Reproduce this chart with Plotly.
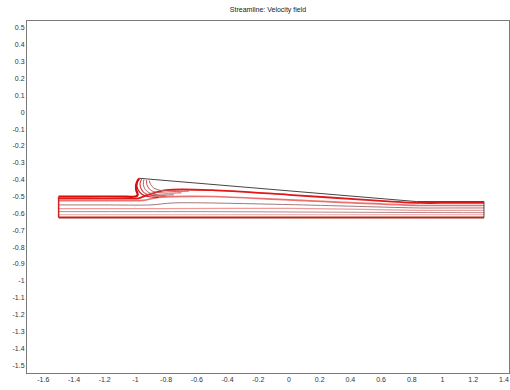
import plotly.graph_objects as go

# ---- tick labels ----
x_tick_vals = [-1.6, -1.4, -1.2, -1.0, -0.8, -0.6, -0.4, -0.2, 0.0, 0.2, 0.4, 0.6, 0.8, 1.0, 1.2, 1.4]
x_tick_text = ["-1.6", "-1.4", "-1.2", "-1", "-0.8", "-0.6", "-0.4", "-0.2", "0", "0.2", "0.4", "0.6", "0.8", "1", "1.2", "1.4"]
y_tick_vals = [0.5, 0.4, 0.3, 0.2, 0.1, 0.0, -0.1, -0.2, -0.3, -0.4, -0.5, -0.6, -0.7, -0.8, -0.9, -1.0,
               -1.1, -1.2, -1.3, -1.4, -1.5]
y_tick_text = ["0.5", "0.4", "0.3", "0.2", "0.1", "0", "-0.1", "-0.2", "-0.3", "-0.4", "-0.5", "-0.6", "-0.7",
               "-0.8", "-0.9", "-1", "-1.1", "-1.2", "-1.3", "-1.4", "-1.5"]

# ---- geometry / walls ----
wall_top_x = [-0.975, 0.83, 1.27, 1.27]
wall_top_y = [-0.392, -0.53, -0.53, -0.625]
inlet_edge_x = [-1.5, -1.5]
inlet_edge_y = [-0.50, -0.625]
bottom_x = [-1.5, 1.27]
bottom_y = [-0.625, -0.625]

# ---- streamlines (x, y points) ----
s_top_x = [-1.5, -1.3, -1.1, -1.0, -0.985, -0.995, -0.995, -0.985, -0.975]
s_top_y = [-0.50, -0.50, -0.50, -0.50, -0.49, -0.46, -0.43, -0.405, -0.393]

s1_x = [-1.5, -1.3, -1.1, -0.98, -0.92, -0.8, -0.5, 0.0, 0.5, 0.85, 1.05, 1.27]
s1_y = [-0.512, -0.512, -0.512, -0.511, -0.49, -0.462, -0.462, -0.49, -0.52, -0.538, -0.538, -0.538]
s2_x = [-1.5, -1.3, -1.1, -0.95, -0.85, -0.5, 0.0, 0.85, 1.05, 1.27]
s2_y = [-0.525, -0.525, -0.525, -0.523, -0.505, -0.50, -0.52, -0.553, -0.553, -0.553]
s3_x = [-1.5, -1.2, -0.9, -0.75, 0.0, 0.85, 1.05, 1.27]
s3_y = [-0.55, -0.55, -0.55, -0.538, -0.548, -0.568, -0.568, -0.568]
s4_x = [-1.5, -1.2, -0.85, 0.0, 0.85, 1.05, 1.27]
s4_y = [-0.572, -0.572, -0.572, -0.57, -0.582, -0.582, -0.582]
s5_x = [-1.5, -0.5, 0.5, 1.27]
s5_y = [-0.59, -0.59, -0.594, -0.596]
s6_x = [-1.5, 1.27]
s6_y = [-0.608, -0.608]

h1_x = [-0.975, -0.99, -0.985, -0.96, -0.92, -0.85]
h1_y = [-0.396, -0.42, -0.455, -0.485, -0.50, -0.505]
h2_x = [-0.96, -0.97, -0.96, -0.935, -0.88, -0.8]
h2_y = [-0.398, -0.425, -0.46, -0.483, -0.495, -0.497]
h3_x = [-0.945, -0.948, -0.935, -0.905, -0.85, -0.75]
h3_y = [-0.40, -0.43, -0.46, -0.48, -0.49, -0.49]
h4_x = [-0.928, -0.925, -0.91, -0.88, -0.8, -0.7]
h4_y = [-0.403, -0.43, -0.455, -0.472, -0.48, -0.478]
h5_x = [-0.91, -0.9, -0.88, -0.84, -0.75, -0.65]
h5_y = [-0.405, -0.43, -0.45, -0.463, -0.47, -0.468]

fig = go.Figure()


def add_line(xs, ys, color, width=1.2, shape="spline"):
    fig.add_trace(go.Scatter(x=xs, y=ys, mode="lines",
                             line=dict(color=color, width=width, shape=shape, smoothing=0.8),
                             hoverinfo="skip", showlegend=False))


add_line(s6_x, s6_y, "#f4b8b8", 1.2, "linear")
add_line(s5_x, s5_y, "#b08a8a", 1.0)
add_line(s4_x, s4_y, "#f09a9a", 1.3)
add_line(s3_x, s3_y, "#a07a7a", 1.0)
add_line(s2_x, s2_y, "#ec7070", 1.6)
add_line(s1_x, s1_y, "#e01818", 1.8)
add_line(h5_x, h5_y, "#a86a6a", 1.0)
add_line(h4_x, h4_y, "#d84848", 1.0)
add_line(h3_x, h3_y, "#a86060", 1.0)
add_line(h2_x, h2_y, "#e03030", 1.1)
add_line(h1_x, h1_y, "#c02020", 1.2)
add_line(s_top_x, s_top_y, "#d01010", 2.2)
add_line(bottom_x, bottom_y, "#b02a1a", 2.0, "linear")
add_line(inlet_edge_x, inlet_edge_y, "#d02020", 1.5, "linear")
add_line(wall_top_x, wall_top_y, "#4a4444", 1.0, "linear")

axis_font = dict(family="Liberation Sans, Arial, sans-serif", size=7, color="#333333")

fig.update_layout(
    width=510, height=390,
    margin=dict(l=27, r=1, t=21, b=17),
    paper_bgcolor="white", plot_bgcolor="white",
    title=dict(text="Streamline: Velocity field", x=0.5, xref="paper", y=0.975, yref="container",
               xanchor="center", yanchor="middle",
               font=dict(family="Liberation Sans, Arial, sans-serif", size=7, color="#222222")),
    xaxis=dict(range=[-1.706, 1.433], tickvals=x_tick_vals, ticktext=x_tick_text,
               showgrid=False, zeroline=False, showline=True, mirror=True,
               linecolor="#7a7a7a", linewidth=1, ticks="", tickfont=axis_font, automargin=False),
    yaxis=dict(range=[-1.547, 0.541], tickvals=y_tick_vals, ticktext=y_tick_text,
               showgrid=False, zeroline=False, showline=True, mirror=True,
               linecolor="#7a7a7a", linewidth=1, ticks="", tickfont=axis_font, automargin=False),
)

fig.write_html("out.html")
